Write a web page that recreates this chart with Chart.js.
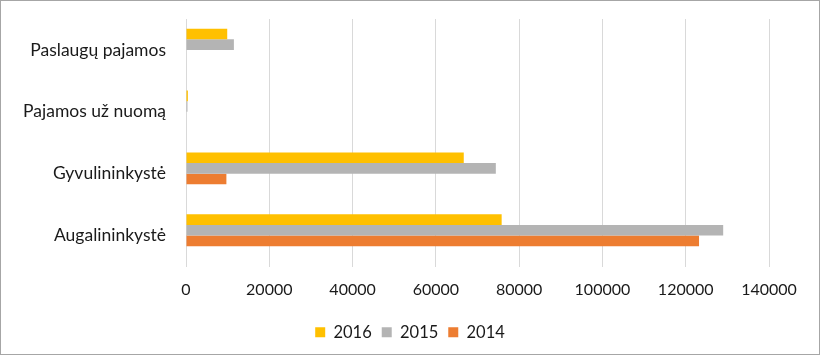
<!DOCTYPE html>
<html>
<head>
<meta charset="utf-8">
<script src="https://cdn.jsdelivr.net/npm/chart.js@4"></script>
<style>
  html, body { margin: 0; padding: 0; background: #ffffff; }
  #wrap { width: 820px; height: 355px; position: relative; }
</style>
</head>
<body>
<div id="wrap"><canvas id="c" width="820" height="355"></canvas></div>
<script>
// Categories (top to bottom)
const categories = ["Paslaugų pajamos", "Pajamos už nuomą", "Gyvulininkystė", "Augalininkystė"];
// Series values
const values2016 = [9900, 450, 66700, 75800];
const values2015 = [11500, 350, 74400, 129000];
const values2014 = [0, 0, 9700, 123200];
// Empty slot series (the source chart reserves a fourth, empty bar slot per category)
const valuesEmpty = [null, null, null, null];
// Axis ticks
const xTicks = [0, 20000, 40000, 60000, 80000, 100000, 120000, 140000];

const FONT = "Lato, 'Open Sans', sans-serif";

const borderPlugin = {
  id: 'outerBorder',
  afterDraw(chart) {
    const ctx = chart.ctx;
    ctx.save();
    ctx.strokeStyle = '#a6a6a6';
    ctx.lineWidth = 1;
    ctx.strokeRect(0.5, 0.5, chart.width - 1, chart.height - 1);
    ctx.restore();
  }
};

new Chart(document.getElementById('c'), {
  type: 'bar',
  data: {
    labels: categories,
    datasets: [
      { label: '2016', data: values2016, backgroundColor: '#FFC000' },
      { label: '2015', data: values2015, backgroundColor: '#B4B4B4' },
      { label: '2014', data: values2014, backgroundColor: '#ED7D31' },
      { label: '', data: valuesEmpty, backgroundColor: 'rgba(0,0,0,0)' }
    ]
  },
  plugins: [borderPlugin],
  options: {
    indexAxis: 'y',
    responsive: false,
    animation: false,
    devicePixelRatio: 1,
    datasets: { bar: { categoryPercentage: 0.685, barPercentage: 1.0, borderWidth: 0 } },
    layout: { padding: { top: 19, right: 0, bottom: 4.5, left: 0 } },
    plugins: {
      tooltip: { enabled: false },
      legend: {
        position: 'bottom',
        labels: {
          boxWidth: 10, boxHeight: 10, padding: 10,
          color: '#1a1a1a',
          font: { family: FONT, size: 16.5 },
          filter: (item) => item.text !== ''
        }
      }
    },
    scales: {
      x: {
        min: 0, max: 140000,
        afterBuildTicks(scale) { scale.ticks = xTicks.map(v => ({ value: v })); },
        afterFit(scale) { scale.height = 47.5; },
        grid: { color: '#d9d9d9', lineWidth: 1, drawTicks: false },
        border: { display: false },
        ticks: {
          padding: 13.5, color: '#1a1a1a', font: { family: FONT, size: 16 }, maxRotation: 0,
          callback: (v) => String(v)
        }
      },
      y: {
        afterFit(scale) { scale.width = 186; scale.paddingTop = 0; scale.paddingBottom = 0; },
        grid: { display: false, drawTicks: false },
        border: { display: false },
        ticks: { padding: 20, color: '#1a1a1a', font: { family: FONT, size: 17.5 } }
      },
      yRight: {
        type: 'category',
        axis: 'y',
        position: 'right',
        afterFit(scale) { scale.width = 51; scale.paddingTop = 0; scale.paddingBottom = 0; },
        grid: { display: false, drawTicks: false },
        border: { display: false },
        ticks: { display: false }
      }
    }
  }
});
</script>
</body>
</html>
